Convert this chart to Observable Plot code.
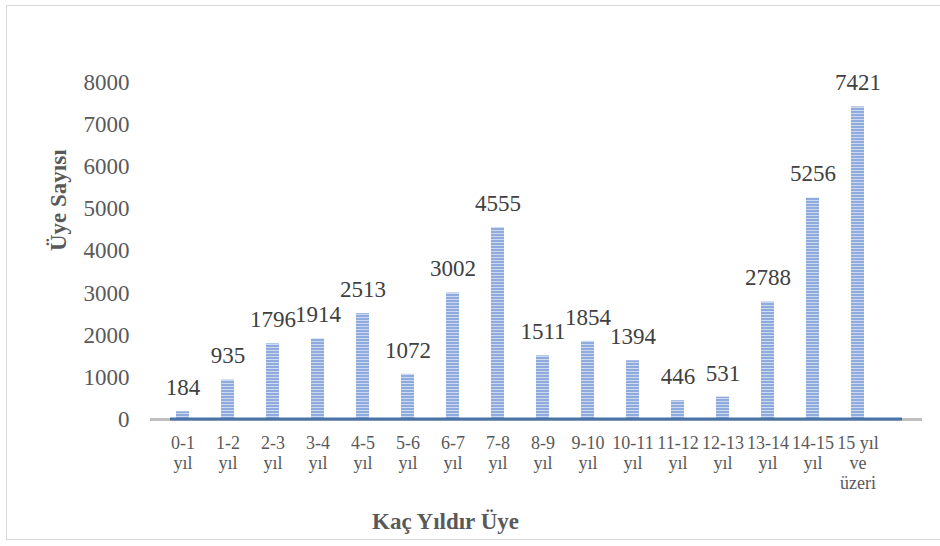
<!DOCTYPE html>
<html>
<head>
<meta charset="utf-8">
<script src="https://cdn.jsdelivr.net/npm/d3@7"></script>
<script src="https://cdn.jsdelivr.net/npm/@observablehq/plot@0.6"></script>
<style>
  html, body { margin: 0; padding: 0; background: #fff; }
  #wrap { position: relative; width: 940px; height: 546px; overflow: hidden; }
  #box { position: absolute; left: 6px; top: 5px; width: 940px; height: 535px; border: 1.5px solid #d9d9d9; box-sizing: border-box; }
  #chart { position: absolute; left: 0; top: 0; }
</style>
</head>
<body>
<div id="wrap"><div id="box"></div><div id="chart"></div></div>
<script>
const categories = ["0-1\nyıl","1-2\nyıl","2-3\nyıl","3-4\nyıl","4-5\nyıl","5-6\nyıl","6-7\nyıl","7-8\nyıl","8-9\nyıl","9-10\nyıl","10-11\nyıl","11-12\nyıl","12-13\nyıl","13-14\nyıl","14-15\nyıl","15 yıl\nve\nüzeri"];
const memberCounts = [184, 935, 1796, 1914, 2513, 1072, 3002, 4555, 1511, 1854, 1394, 446, 531, 2788, 5256, 7421];
const yTicks = [0, 1000, 2000, 3000, 4000, 5000, 6000, 7000, 8000];
const yTitle = "Üye Sayısı";
const xTitle = "Kaç Yıldır Üye";

const FONT = "Liberation Serif";
const data = categories.map((c, i) => ({cat: c, value: memberCounts[i]}));

const chart = Plot.plot({
  width: 940,
  height: 546,
  marginLeft: 150,
  marginRight: 18,
  marginTop: 82,
  marginBottom: 127,
  style: {fontFamily: FONT, background: "transparent", overflow: "visible"},
  x: {domain: categories, range: [172.63, 867.87], paddingInner: 0.72, paddingOuter: 0, align: 0.5},
  y: {domain: [0, 8000]},
  marks: [
    Plot.barY(data, {x: "cat", y: "value", fill: "url(#stripes)"}),
    Plot.ruleY([0], {stroke: "#bfbfbf", strokeWidth: 3}),
    Plot.ruleY([0], {stroke: "#4874a8", strokeWidth: 3, insetLeft: 20, insetRight: 20, dy: -0.5}),
    Plot.text(data, {x: "cat", y: "value", text: d => String(d.value), dy: -24, fontSize: 23, fill: "#404040", fontFamily: FONT}),
    Plot.axisY({ticks: yTicks, tickSize: 0, tickPadding: 21, fontSize: 23, color: "#595959", label: null, tickFormat: d => String(d), fontFamily: FONT}),
    Plot.axisX({tickSize: 0, tickPadding: 15, fontSize: 18, lineHeight: 1.11, color: "#595959", label: null, fontFamily: FONT}),
    Plot.text([yTitle], {frameAnchor: "left", rotate: -90, dx: -92, fontSize: 23, fontWeight: "bold", fill: "#595959", fontFamily: FONT}),
    Plot.text([xTitle], {frameAnchor: "bottom", dx: -91, dy: 109, fontSize: 23, fontWeight: "bold", fill: "#595959", fontFamily: FONT})
  ]
});

chart.querySelectorAll("text, tspan").forEach(el => { el.style.fontFamily = "'Liberation Serif', serif"; });

const ns = "http://www.w3.org/2000/svg";
const defs = document.createElementNS(ns, "defs");
const pat = document.createElementNS(ns, "pattern");
pat.setAttribute("id", "stripes");
pat.setAttribute("patternUnits", "userSpaceOnUse");
pat.setAttribute("width", "6");
pat.setAttribute("height", "3");
const r1 = document.createElementNS(ns, "rect");
r1.setAttribute("width", "6"); r1.setAttribute("height", "3"); r1.setAttribute("fill", "#cdd9ef");
const r2 = document.createElementNS(ns, "rect");
r2.setAttribute("width", "6"); r2.setAttribute("height", "2"); r2.setAttribute("fill", "#8faadc");
pat.appendChild(r1); pat.appendChild(r2);
defs.appendChild(pat);
chart.insertBefore(defs, chart.firstChild);

document.getElementById("chart").appendChild(chart);
</script>
</body>
</html>
